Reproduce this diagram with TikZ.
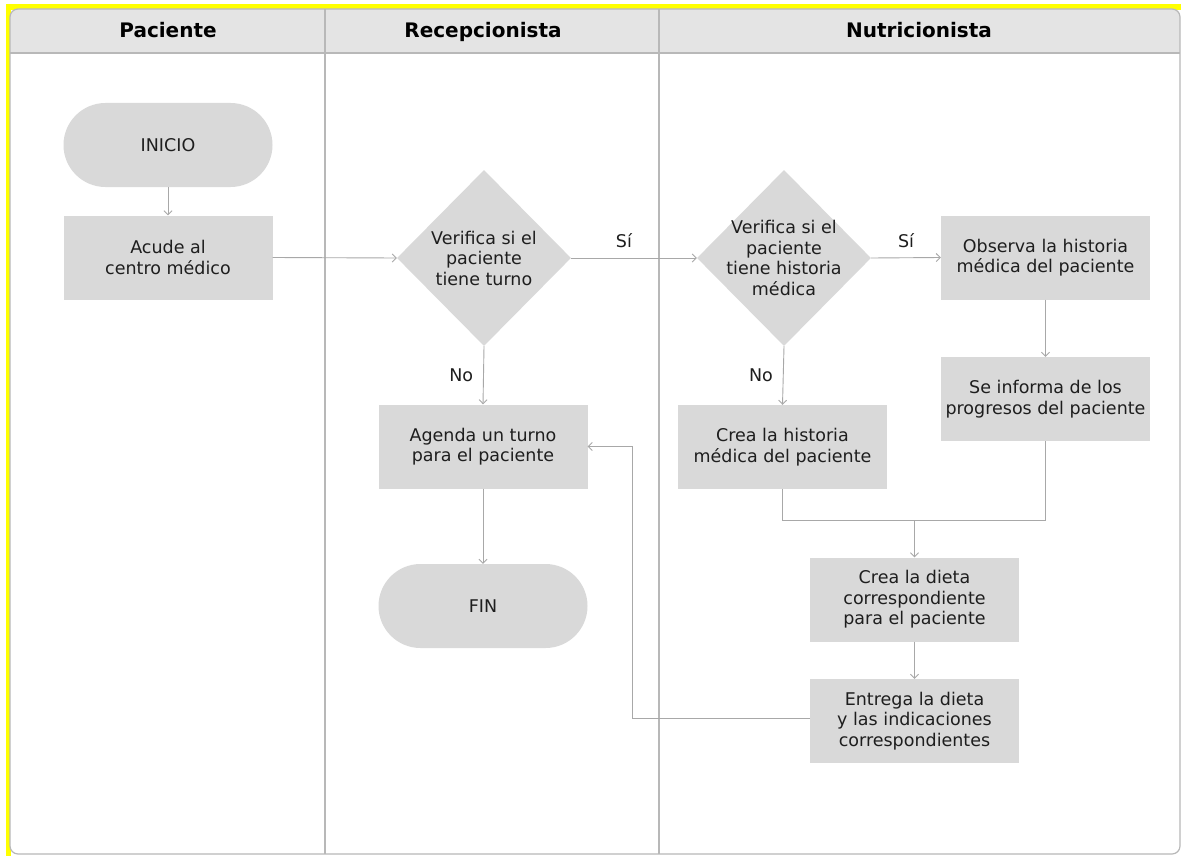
\documentclass[tikz,border=0pt]{standalone}
\usepackage{fontspec}
\setmainfont{DejaVu Sans}
\usetikzlibrary{shapes.geometric,arrows.meta}
\definecolor{boxgray}{HTML}{D9D9D9}
\definecolor{hdrgray}{HTML}{E4E4E4}
\definecolor{linegray}{HTML}{A8A8A8}
\definecolor{framegray}{HTML}{B8B8B8}
\definecolor{yel}{HTML}{FFFF00}
\definecolor{txtgray}{HTML}{1E1E1E}
\begin{document}
\begin{tikzpicture}[x=1pt,y=-1pt,
  base/.style={fill=boxgray,draw=none,align=center,text=txtgray,inner sep=0pt,
    font=\fontsize{17.5}{20.5}\selectfont},
  procbox/.style={base,rectangle,minimum width=209pt,minimum height=84pt},
  termbox/.style={base,rectangle,rounded corners=42pt,minimum width=209pt,minimum height=84pt},
  decbox/.style={base,diamond,minimum width=174pt,minimum height=176pt},
  dectext/.style={align=center,text=txtgray,inner sep=0pt,font=\fontsize{17.5}{20.5}\selectfont},
  hdr/.style={font=\bfseries\fontsize{20}{22}\selectfont,text=black,anchor=base,inner sep=0pt},
  arr/.style={draw=linegray,line width=0.9pt,-{Straight Barb[length=4pt,width=8pt]}},
  conn/.style={draw=linegray,line width=0.9pt},
  lbl/.style={font=\fontsize{17.5}{18}\selectfont,text=txtgray,inner sep=0pt},
  lane/.style={draw=framegray,line width=1.2pt}]
\useasboundingbox (0,0) rectangle (1182,856);
% yellow outline (top and left)
\fill[yel] (6,4) rectangle (1181,10);
\fill[yel] (6,4) rectangle (11,856);
% frame
\fill[white,rounded corners=8pt] (10,9) rectangle (1180,854);
\begin{scope}
  \clip[rounded corners=8pt] (10,9) rectangle (1180,854);
  \fill[hdrgray] (10,9) rectangle (1180,53);
\end{scope}
\draw[lane] (10,53) -- (1180,53);
\draw[lane] (325,9) -- (325,854);
\draw[lane] (659,9) -- (659,854);
\draw[framegray,line width=1.2pt,rounded corners=8pt] (10,9) rectangle (1180,854);
% headers
\node[hdr] (h1) at (168,38) {Paciente};
\node[hdr] (h2) at (483,38) {Recepcionista};
\node[hdr] (h3) at (919,38) {Nutricionista};
% nodes
\node[termbox] (inicio) at (168,145) {INICIO};
\node[procbox] (acude) at (168,257.5) {Acude al\\centro médico};
\node[decbox] (d1) at (484,258) {};
\node[dectext] at (d1) {Verifica si el\\paciente\\tiene turno};
\node[procbox] (agenda) at (483,446.5) {Agenda un turno\\para el paciente};
\node[termbox] (fin) at (483,606) {FIN};
\node[decbox] (d2) at (784,258) {};
\node[dectext] at (d2) {Verifica si el\\paciente\\tiene historia\\médica};
\node[procbox] (observa) at (1045.5,257.5) {Observa la historia\\médica del paciente};
\node[procbox] (informa) at (1045.5,399) {Se informa de los\\progresos del paciente};
\node[procbox] (creah) at (782.5,447) {Crea la historia\\médica del paciente};
\node[procbox] (dieta) at (914.5,599.5) {Crea la dieta\\correspondiente\\para el paciente};
\node[procbox] (entrega) at (914.5,721) {Entrega la dieta\\y las indicaciones\\correspondientes};
% connectors
\draw[arr] (inicio) -- (acude);
\draw[arr] (acude.east) -- (d1.west);
\draw[arr] (d1.east) -- node[lbl,pos=0.42,above=10pt] {Sí} (d2.west);
\draw[arr] (d1.south) -- node[lbl,left=10pt] {No} (agenda.north);
\draw[arr] (d2.east) -- node[lbl,above=10pt] {Sí} (observa.west);
\draw[arr] (d2.south) -- node[lbl,left=10pt] {No} (creah.north);
\draw[arr] (observa) -- (informa);
\coordinate (j) at (914.5,520);
\draw[conn] (creah.south) -- (creah.south |- j) -- (informa.south |- j) -- (informa.south);
\draw[arr] (j) -- (dieta.north);
\draw[arr] (agenda) -- (fin);
\draw[arr] (dieta) -- (entrega);
\coordinate (k) at (632,718);
\draw[arr] (entrega.west |- k) -- (k) |- (agenda.east);
\end{tikzpicture}
\end{document}
